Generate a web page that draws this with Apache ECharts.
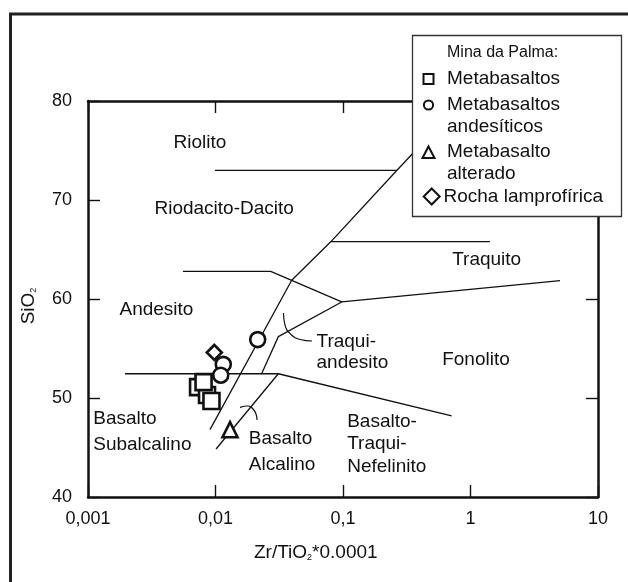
<!DOCTYPE html>
<html>
<head>
<meta charset="utf-8">
<script src="https://cdn.jsdelivr.net/npm/echarts@6/dist/echarts.min.js"></script>
<style>
html, body { margin: 0; padding: 0; background: #fff; }
#chart { width: 628px; height: 582px; }
</style>
</head>
<body>
<div id="chart"></div>
<script>
// Axis tick labels (decimal comma on the log Zr/TiO2 axis)
const xTickLabels = ['0,001', '0,01', '0,1', '1', '10'];
const yTickLabels = ['40', '50', '60', '70', '80'];

// Samples from Mina da Palma: [Zr/TiO2*0.0001, SiO2]
const metabasaltos = [[0.00730, 51.1], [0.00858, 50.3], [0.00930, 49.7], [0.00806, 51.6]];
const metabasaltosAndesiticos = [[0.02143, 55.9], [0.01151, 53.4], [0.01099, 52.3]];
const metabasaltoAlterado = [[0.0130, 46.8]];
const rochaLamprofirica = [[0.00979, 54.6]];

// Field boundaries of the Zr/TiO2 x SiO2 classification diagram
const boundaries = [
  [[0.0099, 73.0], [0.265, 73.0]],
  [[0.858, 80], [0.265, 73.0], [0.0805, 65.8], [0.0396, 61.9], [0.00905, 46.8]],
  [[0.0805, 65.8], [1.42, 65.8]],
  [[0.00556, 62.8], [0.0271, 62.8], [0.0977, 59.7], [5.04, 61.85]],
  [[0.0977, 59.7], [0.0311, 56.2], [0.0230, 52.45]],
  [[0.00195, 52.45], [0.0311, 52.45], [0.712, 48.2]],
  [[0.0311, 52.45], [0.0101, 44.85]]
];

// Small curved pointers tying a field name to its field
const fieldArcs = [
  [[0.03414, 58.59], [0.03508, 57.37], [0.03911, 56.41], [0.04599, 55.91], [0.05712, 55.76]],
  [[0.01557, 49.06], [0.01799, 49.19], [0.01968, 48.89], [0.02078, 48.38], [0.02116, 47.78]]
];

// Field names and where they sit in the diagram
const fieldNames = ['Riolito', 'Riodacito-Dacito', 'Andesito', 'Traquito', 'Traqui-\nandesito',
  'Fonolito', 'Basalto-\nTraqui-\nNefelinito', 'Basalto\nSubalcalino', 'Basalto\nAlcalino'];
const fieldNamePos = [[0.004642, 75.83], [0.003292, 69.16], [0.00175, 58.89], [0.7119, 63.94],
  [0.06142, 54.6], [0.5943, 53.84], [0.1069, 45.35], [0.001089, 46.57], [0.01809, 44.55]];
const fieldNameLineHeight = [21, 21, 21, 21, 21.6, 21, 22.5, 25.7, 26];

const FONT = '"Liberation Sans", Arial, sans-serif';
const INK = '#111111';

const chart = echarts.init(document.getElementById('chart'), null, { renderer: 'canvas' });

function xLabel(v) {
  const i = Math.round(Math.log10(v)) + 3;
  return xTickLabels[i] !== undefined ? xTickLabels[i] : '';
}
function yLabel(v) {
  const i = yTickLabels.indexOf(String(Math.round(v)));
  return i >= 0 ? yTickLabels[i] : '';
}

const axisLine = { show: true, lineStyle: { color: INK, width: 2.5 } };
const axisTick = { show: true, inside: true, length: 12, lineStyle: { color: INK, width: 1.4 } };

const boundarySeries = boundaries.map((pts, i) => ({
  type: 'line', name: 'limite' + i, data: pts, symbol: 'none', silent: true, z: 1,
  lineStyle: { color: INK, width: 1.3, opacity: 1 }, animation: false
}));
const arcSeries = fieldArcs.map((pts, i) => ({
  type: 'line', name: 'arco' + i, data: pts, symbol: 'none', smooth: 0.5, silent: true, z: 1,
  lineStyle: { color: INK, width: 1.2, opacity: 1 }, animation: false
}));

const markerStyle = { color: '#fff', borderColor: INK, borderWidth: 2.6, opacity: 1 };

const sampleSeries = [
  { type: 'scatter', name: 'Metabasaltos', data: metabasaltos, symbol: 'rect', symbolSize: 16,
    itemStyle: markerStyle, z: 5 },
  { type: 'scatter', name: 'Metabasaltos andesíticos', data: metabasaltosAndesiticos, symbol: 'circle',
    symbolSize: 15, itemStyle: markerStyle, z: 5 },
  { type: 'scatter', name: 'Metabasalto alterado', data: metabasaltoAlterado, symbol: 'triangle',
    symbolSize: 15, itemStyle: markerStyle, z: 5 },
  { type: 'scatter', name: 'Rocha lamprofírica', data: rochaLamprofirica, symbol: 'diamond',
    symbolSize: 15, itemStyle: markerStyle, z: 4 }
];

const nameSeries = {
  type: 'scatter', name: 'campos', silent: true, z: 3, symbolSize: 1,
  itemStyle: { color: 'transparent', opacity: 1 },
  data: fieldNames.map((n, i) => ({
    name: n, value: fieldNamePos[i],
    label: { lineHeight: fieldNameLineHeight[i] }
  })),
  label: {
    show: true, position: 'right', distance: 0, formatter: '{b}',
    align: 'left', verticalAlign: 'middle', opacity: 1,
    fontFamily: FONT, fontSize: 19, color: INK
  }
};

// Legend box, drawn over the upper right corner of the plot
const LX = 412, LY = 35;
const legendText = (t, x, y, size) => ({
  type: 'text', x: x, y: y, z: 101,
  style: { text: t, fontFamily: FONT, fontSize: size || 19, fill: INK, verticalAlign: 'middle', align: 'left' }
});
const iconStyle = { fill: '#fff', stroke: INK, lineWidth: 2 };

const legendGraphic = [
  { type: 'rect', z: 100, shape: { x: LX + 0.5, y: LY + 0.5, width: 209, height: 181 },
    style: { fill: '#fff', stroke: '#333', lineWidth: 1.3 } },
  legendText('Mina da Palma:', 447, 53, 16),
  { type: 'rect', z: 101, shape: { x: 423.5, y: 74, width: 10, height: 10 }, style: iconStyle },
  legendText('Metabasaltos', 447, 79),
  { type: 'circle', z: 101, shape: { cx: 428.5, cy: 105, r: 4.6 }, style: iconStyle },
  legendText('Metabasaltos', 447, 105),
  legendText('andesíticos', 447, 127),
  { type: 'polygon', z: 101, shape: { points: [[428.5, 146.5], [434.5, 158], [422.5, 158]] }, style: iconStyle },
  legendText('Metabasalto', 447, 152),
  legendText('alterado', 447, 173.5),
  { type: 'polygon', z: 101, shape: { points: [[431.7, 188.5], [439.7, 196.5], [431.7, 204.5], [423.7, 196.5]] },
    style: iconStyle },
  legendText('Rocha lamprofírica', 443.5, 197)
];

const option = {
  animation: false,
  backgroundColor: '#fff',
  grid: { left: 88, right: 30, top: 101, bottom: 85, containLabel: false, outerBoundsMode: 'none' },
  xAxis: [
    { type: 'log', logBase: 10, min: 0.001, max: 10, position: 'bottom',
      axisLine: axisLine, axisTick: axisTick, minorTick: { show: false }, splitLine: { show: false },
      axisLabel: { formatter: xLabel, fontFamily: FONT, fontSize: 18, color: INK, margin: 13 } },
    { type: 'log', logBase: 10, min: 0.001, max: 10, position: 'top',
      axisLine: axisLine, axisTick: axisTick, minorTick: { show: false }, splitLine: { show: false },
      axisLabel: { show: false } }
  ],
  yAxis: [
    { type: 'value', min: 40, max: 80, interval: 10, position: 'left',
      axisLine: axisLine, axisTick: axisTick, splitLine: { show: false },
      axisLabel: { formatter: yLabel, fontFamily: FONT, fontSize: 18, color: INK, margin: 16 } },
    { type: 'value', min: 40, max: 80, interval: 10, position: 'right',
      axisLine: axisLine, axisTick: axisTick, splitLine: { show: false },
      axisLabel: { show: false } }
  ],
  graphic: [
    // outer frame of the figure
    { type: 'rect', z: 0, silent: true, shape: { x: 10.5, y: 14, width: 700, height: 700 },
      style: { fill: 'none', stroke: '#222', lineWidth: 3 } },
    // axis titles
    { type: 'text', x: 254, y: 553, z: 10,
      style: { text: 'Zr/TiO{s|2}*0.0001', fontFamily: FONT, fontSize: 19, fill: INK,
        verticalAlign: 'middle', align: 'left',
        rich: { s: { fontFamily: FONT, fontSize: 9, fill: INK, verticalAlign: 'bottom', lineHeight: 9 } } } },
    { type: 'text', x: 28.5, y: 306, rotation: Math.PI / 2, z: 10,
      style: { text: 'SiO{s|2}', fontFamily: FONT, fontSize: 19, fill: INK,
        verticalAlign: 'middle', align: 'center',
        rich: { s: { fontFamily: FONT, fontSize: 9, fill: INK, verticalAlign: 'bottom', lineHeight: 9 } } } }
  ].concat(legendGraphic),
  series: boundarySeries.concat(arcSeries, [nameSeries], sampleSeries)
};

chart.setOption(option);
</script>
</body>
</html>
